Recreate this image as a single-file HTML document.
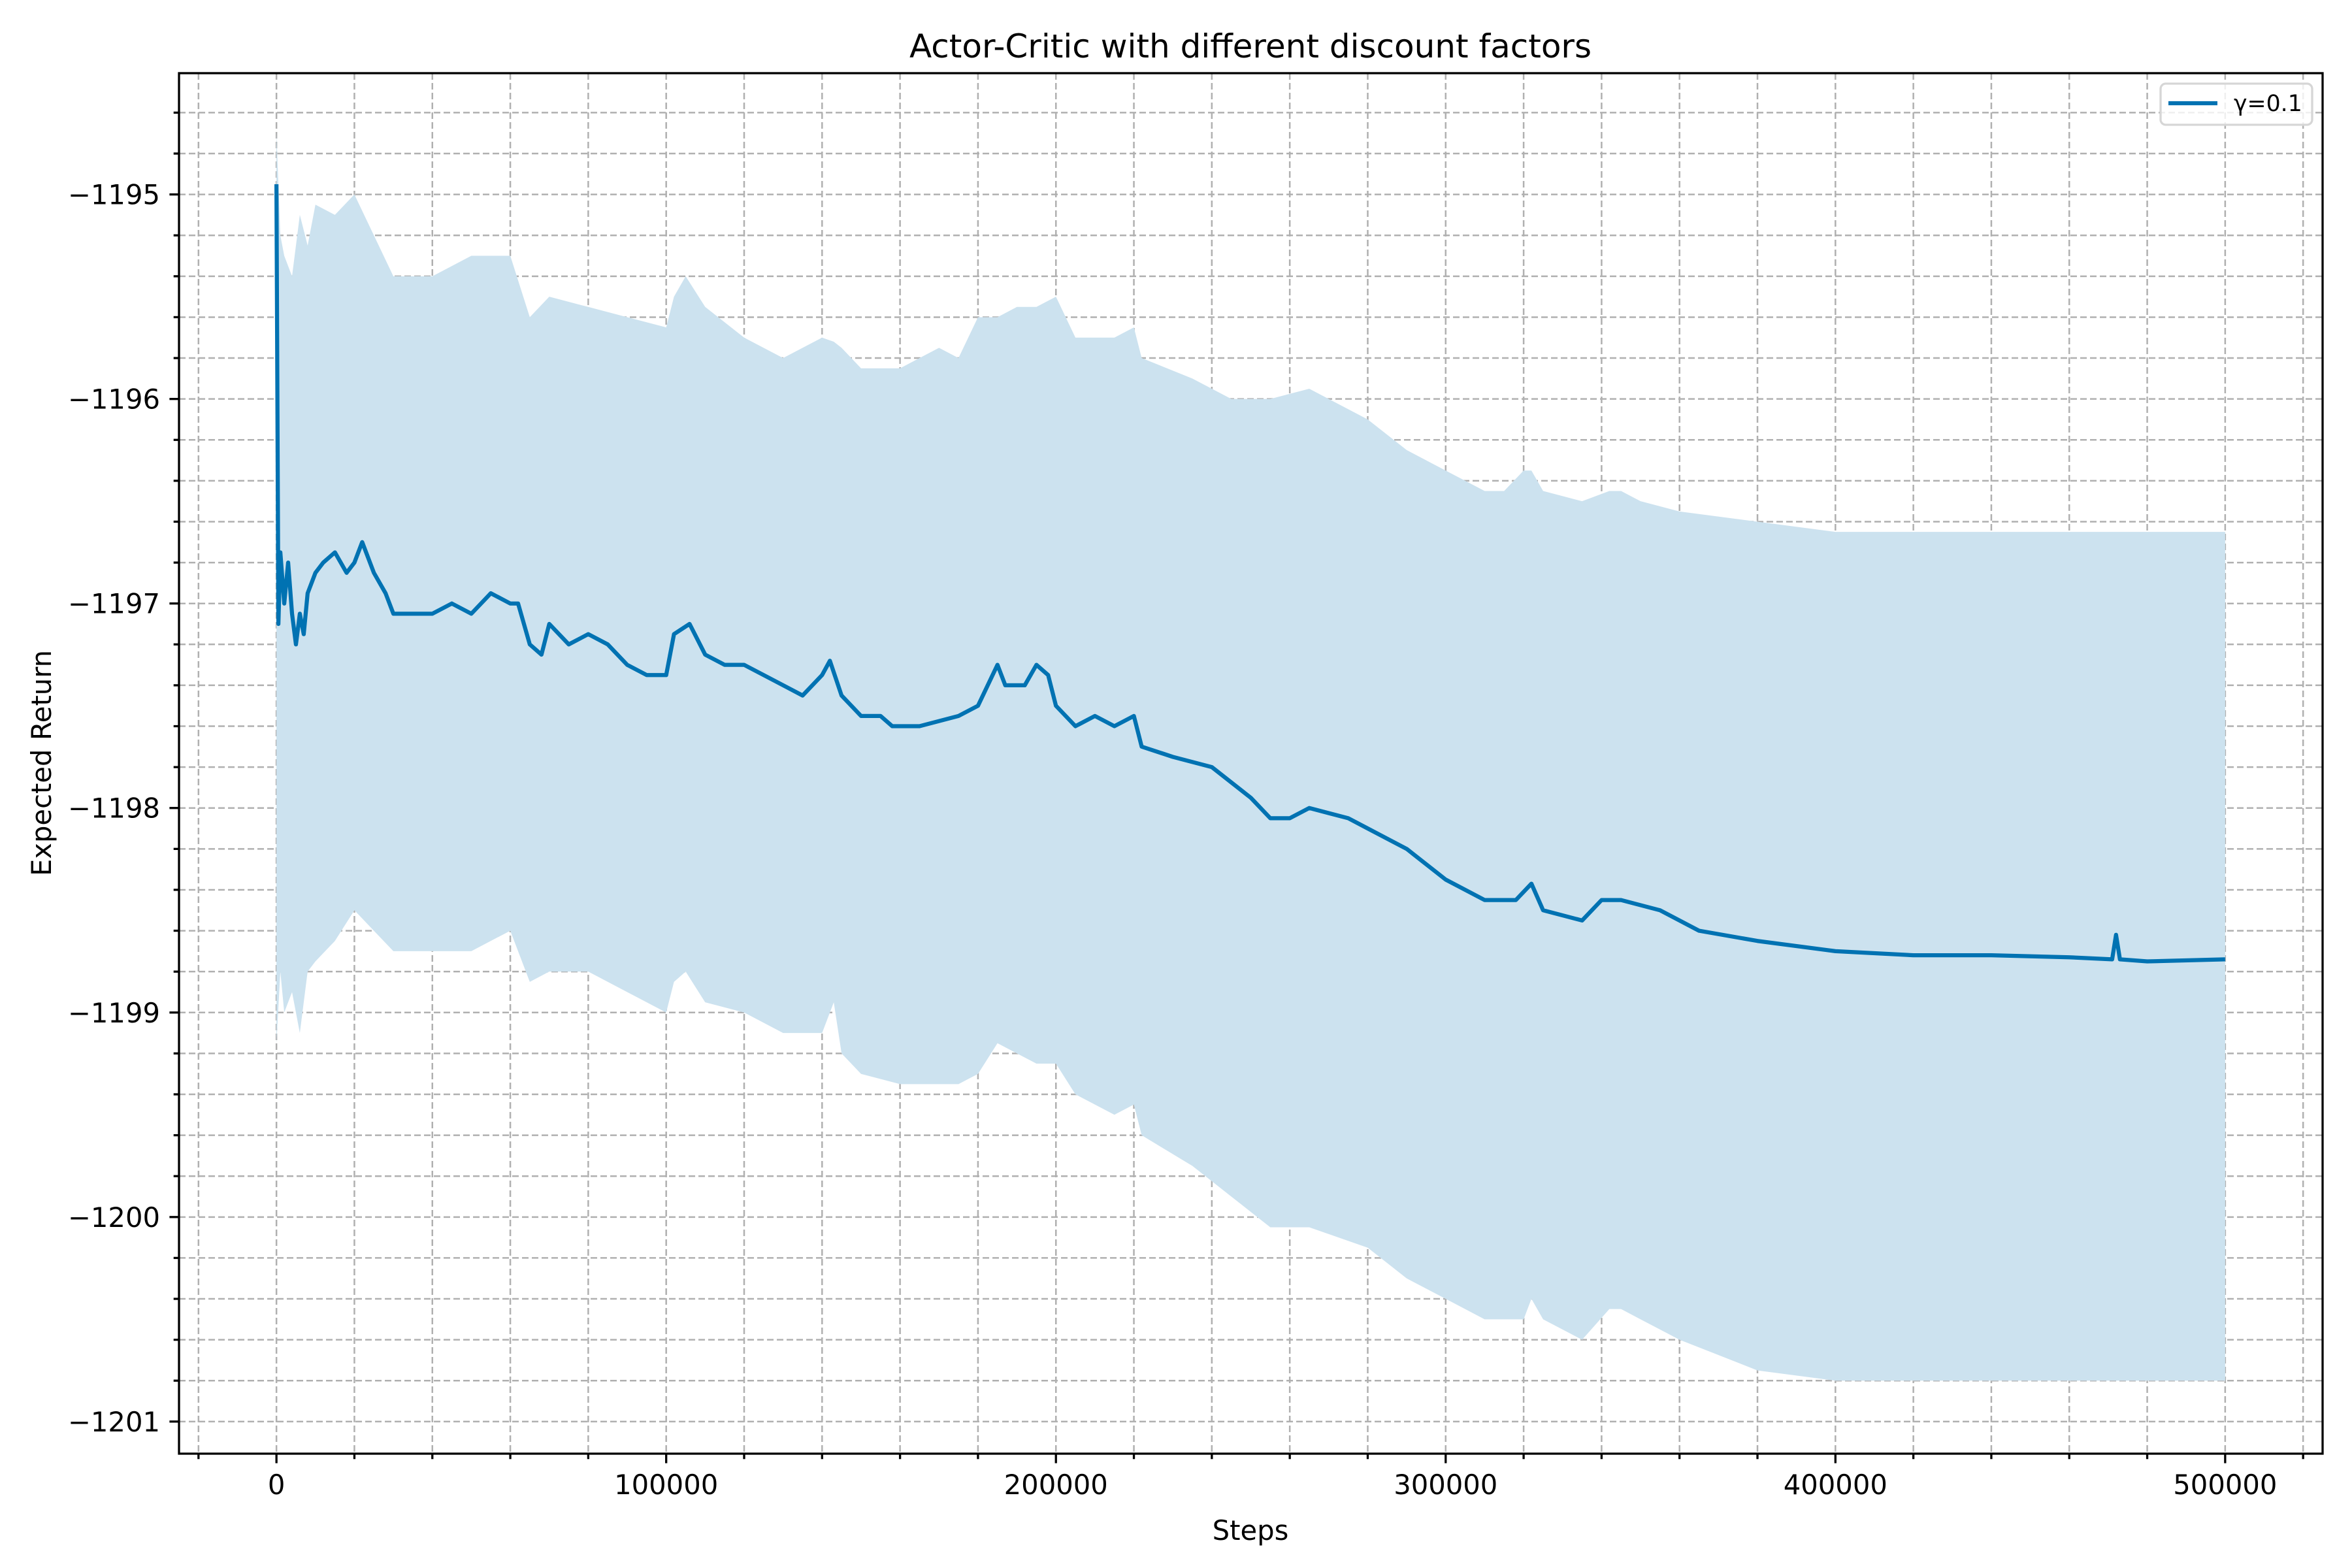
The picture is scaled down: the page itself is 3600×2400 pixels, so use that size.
<!DOCTYPE html>
<html><head><meta charset="utf-8"><style>
html,body{margin:0;padding:0;background:#fff;}
svg{display:block;font-family:"DejaVu Sans","Liberation Sans",sans-serif;}
</style></head>
<body>
<svg id="chart" width="3600" height="2400" viewBox="0 0 3600 2400" xmlns="http://www.w3.org/2000/svg">
<rect width="3600" height="2400" fill="#fff"/>
<g id="grid"></g>
<g id="band"></g>
<g id="line"></g>
<g id="axes"></g>
<text x="1914" y="88" font-size="50" text-anchor="middle">Actor-Critic with different discount factors</text>
<text x="1914" y="2357" font-size="41.7" text-anchor="middle">Steps</text>
<text transform="translate(78,1168) rotate(-90)" font-size="41.7" text-anchor="middle">Expected Return</text>
<g>
<rect x="3307" y="128" width="232" height="63" rx="8" fill="#fff" fill-opacity="0.8" stroke="#d6d6d6" stroke-width="3.3"/>
<line x1="3319" y1="158" x2="3394" y2="158" stroke="#0072B2" stroke-width="6.25"/>
<text x="3419" y="170" font-size="34.7">γ=0.1</text>
</g>
</svg>
<script>
const stepsMean=[0,500,1000,2000,3000,4000,5000,6000,7000,8000,10000,12000,15000,18000,20000,22000,25000,28000,30000,35000,40000,45000,50000,55000,60000,62000,65000,68000,70000,75000,80000,85000,90000,95000,100000,102000,106000,110000,115000,120000,125000,130000,135000,140000,142000,145000,150000,155000,158000,165000,175000,180000,185000,187000,192000,195000,198000,200000,205000,210000,215000,220000,222000,230000,240000,250000,255000,260000,265000,275000,280000,290000,300000,310000,318000,322000,325000,335000,340000,345000,355000,365000,380000,400000,420000,440000,460000,471000,472000,473000,480000,500000];
const meanValues=[-1194.95,-1197.1,-1196.75,-1197.0,-1196.8,-1197.05,-1197.2,-1197.05,-1197.15,-1196.95,-1196.85,-1196.8,-1196.75,-1196.85,-1196.8,-1196.7,-1196.85,-1196.95,-1197.05,-1197.05,-1197.05,-1197.0,-1197.05,-1196.95,-1197.0,-1197.0,-1197.2,-1197.25,-1197.1,-1197.2,-1197.15,-1197.2,-1197.3,-1197.35,-1197.35,-1197.15,-1197.1,-1197.25,-1197.3,-1197.3,-1197.35,-1197.4,-1197.45,-1197.35,-1197.28,-1197.45,-1197.55,-1197.55,-1197.6,-1197.6,-1197.55,-1197.5,-1197.3,-1197.4,-1197.4,-1197.3,-1197.35,-1197.5,-1197.6,-1197.55,-1197.6,-1197.55,-1197.7,-1197.75,-1197.8,-1197.95,-1198.05,-1198.05,-1198.0,-1198.05,-1198.1,-1198.2,-1198.35,-1198.45,-1198.45,-1198.37,-1198.5,-1198.55,-1198.45,-1198.45,-1198.5,-1198.6,-1198.65,-1198.7,-1198.72,-1198.72,-1198.73,-1198.74,-1198.62,-1198.74,-1198.75,-1198.74];
const stepsBand=[0,1000,2000,4000,6000,8000,10000,15000,20000,25000,30000,40000,50000,60000,65000,70000,80000,90000,100000,102000,105000,110000,120000,130000,140000,143000,145000,150000,160000,170000,175000,180000,185000,190000,195000,200000,205000,215000,220000,222000,235000,245000,255000,265000,280000,290000,300000,310000,315000,320000,322000,325000,335000,342000,345000,350000,360000,380000,400000,440000,500000];
const upperValues=[-1194.7,-1195.2,-1195.3,-1195.4,-1195.1,-1195.25,-1195.05,-1195.1,-1195.0,-1195.2,-1195.4,-1195.4,-1195.3,-1195.3,-1195.6,-1195.5,-1195.55,-1195.6,-1195.65,-1195.5,-1195.4,-1195.55,-1195.7,-1195.8,-1195.7,-1195.72,-1195.75,-1195.85,-1195.85,-1195.75,-1195.8,-1195.6,-1195.6,-1195.55,-1195.55,-1195.5,-1195.7,-1195.7,-1195.65,-1195.8,-1195.9,-1196.0,-1196.0,-1195.95,-1196.1,-1196.25,-1196.35,-1196.45,-1196.45,-1196.35,-1196.35,-1196.45,-1196.5,-1196.45,-1196.45,-1196.5,-1196.55,-1196.6,-1196.65,-1196.65,-1196.65];
const lowerValues=[-1199.15,-1198.8,-1199.0,-1198.9,-1199.1,-1198.8,-1198.75,-1198.65,-1198.5,-1198.6,-1198.7,-1198.7,-1198.7,-1198.6,-1198.85,-1198.8,-1198.8,-1198.9,-1199.0,-1198.85,-1198.8,-1198.95,-1199.0,-1199.1,-1199.1,-1198.95,-1199.2,-1199.3,-1199.35,-1199.35,-1199.35,-1199.3,-1199.15,-1199.2,-1199.25,-1199.25,-1199.4,-1199.5,-1199.45,-1199.6,-1199.75,-1199.9,-1200.05,-1200.05,-1200.15,-1200.3,-1200.4,-1200.5,-1200.5,-1200.5,-1200.4,-1200.5,-1200.6,-1200.45,-1200.45,-1200.5,-1200.6,-1200.75,-1200.8,-1200.8,-1200.8];
const xTicks=[0,100000,200000,300000,400000,500000];
const yTicks=[-1201,-1200,-1199,-1198,-1197,-1196,-1195];

const L=274,R=3555,T=112,B=2225;
const xMin=-25000,xMax=525000,yMin=-1201.157,yMax=-1194.407;
const sx=v=>L+(v-xMin)/(xMax-xMin)*(R-L);
const sy=v=>B-(v-yMin)/(yMax-yMin)*(B-T);
const NS='http://www.w3.org/2000/svg';
function mk(tag,parent){const e=document.createElementNS(NS,tag);parent.appendChild(e);return e;}
const grid=document.getElementById('grid'),axes=document.getElementById('axes');

// grid minor + major
for(let v=-20000;v<=520000;v+=20000){
  const l=mk('line',grid);
  
  
  l.setAttribute('x1',sx(v));l.setAttribute('x2',sx(v));l.setAttribute('y1',T);l.setAttribute('y2',B);
  l.setAttribute('stroke','#b0b0b0');l.setAttribute('stroke-width','2.5');l.setAttribute('stroke-dasharray','10 5');
  const t=mk('line',axes);
  
  
  const major=v%100000===0;
  t.setAttribute('x1',sx(v));t.setAttribute('x2',sx(v));t.setAttribute('y1',B);t.setAttribute('y2',B+(major?14.6:8.3));
  t.setAttribute('stroke','#000');t.setAttribute('stroke-width','3.3');
}
for(let k=-1202*5;k<=-1194*5;k++){
  const v=k/5; if(v<yMin||v>yMax) continue;
  const l=mk('line',grid);
  
  
  l.setAttribute('x1',L);l.setAttribute('x2',R);l.setAttribute('y1',sy(v));l.setAttribute('y2',sy(v));
  l.setAttribute('stroke','#b0b0b0');l.setAttribute('stroke-width','2.5');l.setAttribute('stroke-dasharray','10 5');
  const t=mk('line',axes);
  
  
  const major=k%5===0;
  t.setAttribute('x1',L-(major?14.6:8.3));t.setAttribute('x2',L);t.setAttribute('y1',sy(v));t.setAttribute('y2',sy(v));
  t.setAttribute('stroke','#000');t.setAttribute('stroke-width','3.3');
}
// band
let d='M'+stepsBand.map((s,i)=>sx(s)+','+sy(upperValues[i])).join('L');
for(let i=stepsBand.length-1;i>=0;i--) d+='L'+sx(stepsBand[i])+','+sy(lowerValues[i]);
const band=mk('path',document.getElementById('band'));


band.setAttribute('d',d+'Z');band.setAttribute('fill','#cce2ef');
// line
const pl=mk('polyline',document.getElementById('line'));


pl.setAttribute('points',stepsMean.map((s,i)=>sx(s)+','+sy(meanValues[i])).join(' '));
pl.setAttribute('fill','none');pl.setAttribute('stroke','#0072B2');pl.setAttribute('stroke-width','6.25');pl.setAttribute('stroke-linejoin','round');
// tick labels
xTicks.forEach(v=>{
  const t=mk('text',axes);
  
  
  t.setAttribute('x',sx(v));t.setAttribute('y',2287);t.setAttribute('font-size','41.7');t.setAttribute('text-anchor','middle');
  t.textContent=String(v);
});
yTicks.forEach(v=>{
  const t=mk('text',axes);
  
  
  t.setAttribute('x',245);t.setAttribute('y',sy(v)+15);t.setAttribute('font-size','41.7');t.setAttribute('text-anchor','end');
  t.textContent='\u2212'+Math.abs(v);
});
// spines
const sp=mk('rect',axes);


sp.setAttribute('x',L);sp.setAttribute('y',T);sp.setAttribute('width',R-L);sp.setAttribute('height',B-T);
sp.setAttribute('fill','none');sp.setAttribute('stroke','#000');sp.setAttribute('stroke-width','3.3');
</script>
</body></html>
